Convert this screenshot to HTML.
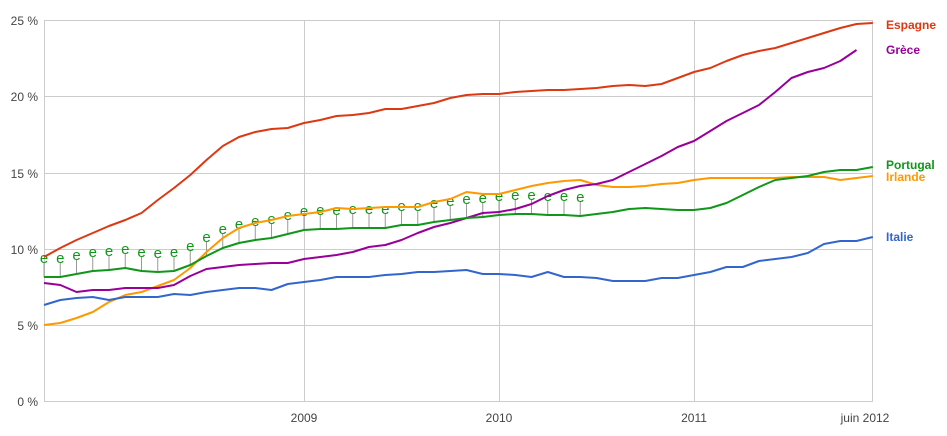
<!DOCTYPE html>
<html><head><meta charset="utf-8"><style>
html,body{margin:0;padding:0;background:#fff;}
svg{display:block;font-family:"Liberation Sans",Arial,sans-serif;}
</style></head><body>
<svg id="s" width="947" height="436" viewBox="0 0 947 436">
<g stroke="#ccc" stroke-width="1" fill="none">
<line x1="44" y1="20.5" x2="872" y2="20.5"/>
<line x1="44" y1="96.5" x2="872" y2="96.5"/>
<line x1="44" y1="173.5" x2="872" y2="173.5"/>
<line x1="44" y1="249.5" x2="872" y2="249.5"/>
<line x1="44" y1="325.5" x2="872" y2="325.5"/>
<line x1="44" y1="401.5" x2="872" y2="401.5"/>
<line x1="44.5" y1="20" x2="44.5" y2="402"/>
<line x1="304.5" y1="20" x2="304.5" y2="402"/>
<line x1="499.5" y1="20" x2="499.5" y2="402"/>
<line x1="694.5" y1="20" x2="694.5" y2="402"/>
<line x1="872.5" y1="20" x2="872.5" y2="402"/>
</g>
<g font-size="12" fill="#444" text-anchor="end">
<text x="38" y="25">25 %</text>
<text x="38" y="101">20 %</text>
<text x="38" y="178">15 %</text>
<text x="38" y="254">10 %</text>
<text x="38" y="330">5 %</text>
<text x="38" y="406">0 %</text>
</g>
<g font-size="12" fill="#444" text-anchor="middle">
<text x="304" y="422">2009</text>
<text x="499" y="422">2010</text>
<text x="694" y="422">2011</text>
<text x="865" y="422">juin 2012</text>
</g>
<g id="ann"></g>
<g id="lines" fill="none" stroke-width="2" stroke-linejoin="round"></g>
<g font-size="12" font-weight="bold">
<text x="886" y="29" fill="#dc3912">Espagne</text>
<text x="886" y="54" fill="#990099">Grèce</text>
<text x="886" y="169" fill="#109618">Portugal</text>
<text x="886" y="181" fill="#ff9900">Irlande</text>
<text x="886" y="241" fill="#3366cc">Italie</text>
</g>
</svg>
<script>
var d={
"#ff9900":[325,323,318,312,302,295,292,286,280,268,252,238,228,223,220,216,214,212,208,209,208,207,207,207,202,199,192,194,194,190,186,183,181,180,185,187,187,186,184,183,180,178,178,178,178,178,177,177,177,180,178,176],
"#3366cc":[305,300,298,297,300,297,297,297,294,295,292,290,288,288,290,284,282,280,277,277,277,275,274,272,272,271,270,274,274,275,277,272,277,277,278,281,281,281,278,278,275,272,267,267,261,259,257,253,244,241,241,237],
"#990099":[283,285,292,290,290,288,288,288,285,276,269,267,265,264,263,263,259,257,255,252,247,245,240,233,227,223,218,213,212,209,204,196,190,186,184,180,172,164,156,147,141,131,121,113,105,92,78,72,68,61,50],
"#109618":[277,277,274,271,270,268,271,272,271,265,256,248,243,240,238,234,230,229,229,228,228,228,225,225,222,220,218,217,215,214,214,215,215,216,214,212,209,208,209,210,210,208,203,195,187,180,178,176,172,170,170,167],
"#dc3912":[257,248,240,233,226,220,213,200,188,175,160,146,137,132,129,128,123,120,116,115,113,109,109,106,103,98,95,94,94,92,91,90,90,89,88,86,85,86,84,78,72,68,61,55,51,48,43,38,33,28,24,23]
};
var NS="http://www.w3.org/2000/svg",L=document.getElementById("lines"),A=document.getElementById("ann");
for(var c in d){var p=d[c].map(function(y,i){return (44+i*16.25).toFixed(1)+","+y}).join(" ");
var e=document.createElementNS(NS,"polyline");e.setAttribute("points",p);e.setAttribute("stroke",c);L.appendChild(e);}
var g=d["#109618"];
for(var i=0;i<34;i++){var x=44+i*16.25,y=g[i];
var l=document.createElementNS(NS,"line");l.setAttribute("x1",x);l.setAttribute("x2",x);l.setAttribute("y1",y);l.setAttribute("y2",y-14);l.setAttribute("stroke","#999");l.setAttribute("stroke-width","1");A.appendChild(l);
var t=document.createElementNS(NS,"text");t.setAttribute("x",x);t.setAttribute("y",y-14);t.setAttribute("text-anchor","middle");t.setAttribute("font-size","15");t.setAttribute("fill","#109618");t.textContent="e";A.appendChild(t);}
</script>
</body></html>
